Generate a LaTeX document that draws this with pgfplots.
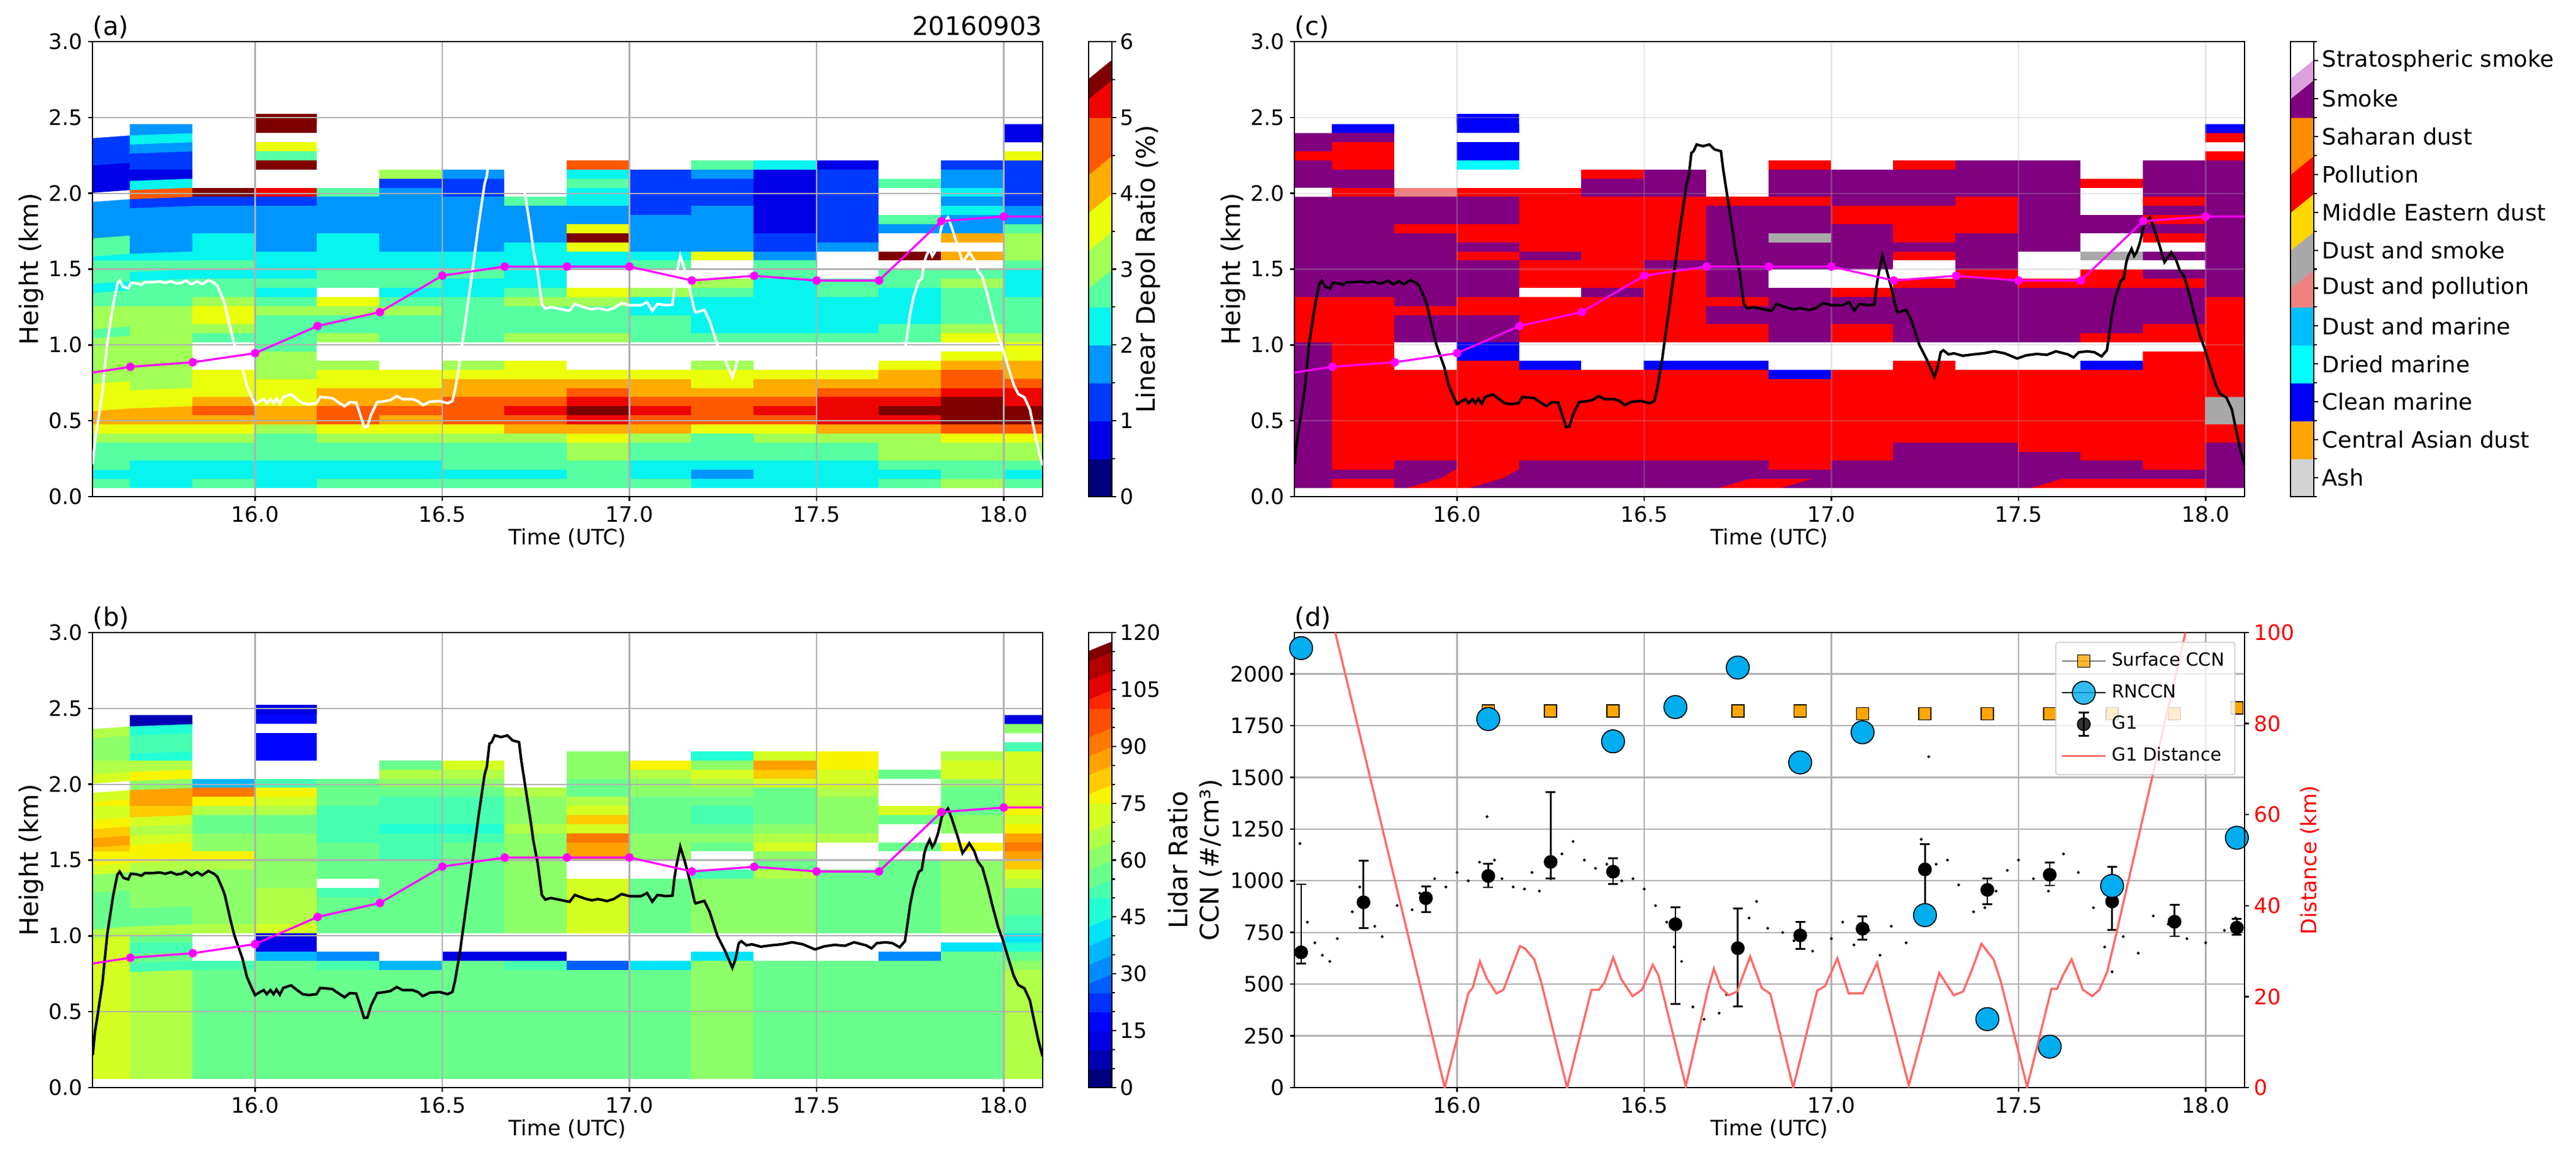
\documentclass[border=0pt]{standalone}
\usepackage{fontspec}
\setmainfont{DejaVu Sans}
\usepackage{pgfplots}
\usepackage{pgfplotstable}
\pgfplotsset{compat=1.18}
\pgfplotsset{mesh/check=false}

\newcommand\tickf{\fontsize{8.33}{10}\selectfont}
\newcommand\titlef{\fontsize{10}{12}\selectfont}
\newcommand\typef{\fontsize{8.83}{10}\selectfont}
\newcommand\legf{\fontsize{7.05}{9}\selectfont}

\definecolor{gridc}{HTML}{B0B0B0}
\definecolor{mag}{HTML}{FF00FF}
\definecolor{distc}{HTML}{FF6A6A}
\definecolor{ccnorange}{HTML}{FFA500}

% class 0 = no data (white)
\pgfplotsset{
  colormap={depol}{rgb255=(255,255,255) rgb255=(0,0,127) rgb255=(0,0,232) rgb255=(0,58,255) rgb255=(0,150,255)
    rgb255=(8,244,238) rgb255=(86,255,161) rgb255=(161,255,86) rgb255=(235,255,11) rgb255=(255,171,0)
    rgb255=(255,89,0) rgb255=(238,4,0) rgb255=(127,0,0)},
  colormap={lidar}{rgb255=(255,255,255) rgb255=(0,0,127) rgb255=(0,0,178) rgb255=(0,0,228) rgb255=(0,5,255)
    rgb255=(0,50,255) rgb255=(0,94,255) rgb255=(0,139,255) rgb255=(0,183,255) rgb255=(0,227,248)
    rgb255=(34,255,213) rgb255=(70,255,177) rgb255=(105,255,141) rgb255=(141,255,105) rgb255=(177,255,70)
    rgb255=(213,255,34) rgb255=(248,244,0) rgb255=(255,202,0) rgb255=(255,161,0) rgb255=(255,120,0)
    rgb255=(255,79,0) rgb255=(255,38,0) rgb255=(228,0,0) rgb255=(178,0,0) rgb255=(127,0,0)},
  colormap={types}{rgb255=(255,255,255) rgb255=(211,211,211) rgb255=(255,165,0) rgb255=(0,0,255) rgb255=(0,255,255)
    rgb255=(0,191,255) rgb255=(240,128,128) rgb255=(169,169,169) rgb255=(255,215,0) rgb255=(255,0,0)
    rgb255=(255,140,0) rgb255=(128,0,128) rgb255=(221,160,221)},
}

% depol ratio class per cell: 16 values per height row, lowest row first
\pgfplotstableread[row sep=crcr]{v\\
6\\5\\6\\5\\6\\6\\6\\6\\6\\6\\5\\5\\5\\6\\7\\6\\
5\\5\\5\\5\\5\\5\\5\\5\\6\\5\\4\\5\\5\\5\\6\\5\\
6\\5\\5\\5\\5\\5\\6\\6\\6\\5\\5\\5\\5\\6\\6\\6\\
6\\6\\6\\6\\6\\6\\6\\6\\7\\6\\6\\6\\6\\7\\7\\7\\
6\\6\\6\\6\\6\\6\\6\\6\\7\\6\\6\\6\\6\\7\\7\\7\\
7\\7\\7\\6\\7\\7\\7\\7\\8\\7\\6\\7\\7\\7\\8\\8\\
8\\8\\8\\7\\8\\8\\8\\9\\9\\9\\8\\8\\9\\9\\10\\10\\
9\\9\\9\\9\\10\\9\\10\\10\\11\\10\\10\\10\\11\\11\\12\\12\\
9\\9\\10\\9\\10\\10\\10\\11\\12\\11\\10\\11\\11\\12\\12\\12\\
8\\8\\9\\8\\9\\9\\10\\10\\11\\10\\10\\10\\11\\11\\12\\11\\
8\\8\\8\\8\\9\\9\\9\\9\\10\\9\\9\\9\\10\\10\\11\\11\\
8\\7\\8\\8\\8\\8\\9\\9\\9\\9\\8\\9\\9\\9\\10\\10\\
7\\7\\8\\7\\8\\8\\8\\8\\8\\8\\8\\8\\8\\9\\10\\9\\
7\\7\\0\\7\\7\\0\\7\\8\\0\\0\\7\\0\\0\\8\\9\\9\\
7\\7\\0\\7\\0\\0\\0\\0\\0\\0\\0\\0\\0\\0\\8\\8\\
7\\7\\0\\6\\0\\0\\0\\0\\0\\0\\0\\0\\0\\0\\0\\8\\
7\\7\\6\\6\\7\\6\\6\\7\\7\\6\\6\\6\\6\\6\\8\\7\\
6\\7\\7\\6\\6\\6\\6\\6\\6\\6\\5\\5\\5\\6\\7\\6\\
7\\7\\8\\6\\6\\6\\6\\6\\6\\6\\5\\5\\5\\5\\6\\6\\
7\\7\\8\\7\\7\\7\\6\\6\\6\\5\\5\\5\\5\\5\\6\\6\\
6\\6\\7\\6\\8\\6\\6\\7\\7\\5\\5\\5\\5\\5\\6\\6\\
6\\6\\6\\5\\0\\5\\5\\6\\8\\7\\6\\5\\6\\5\\6\\5\\
5\\6\\6\\6\\6\\6\\5\\5\\0\\0\\7\\5\\6\\6\\7\\5\\
6\\5\\5\\5\\6\\6\\6\\5\\0\\0\\0\\6\\0\\6\\6\\5\\
6\\6\\6\\5\\5\\5\\5\\5\\5\\6\\0\\6\\0\\0\\0\\6\\
5\\5\\5\\5\\5\\5\\5\\5\\5\\5\\8\\4\\0\\12\\9\\7\\
6\\4\\5\\4\\5\\4\\4\\5\\8\\4\\4\\3\\4\\0\\0\\7\\
6\\4\\5\\4\\5\\4\\4\\4\\12\\4\\4\\3\\3\\0\\9\\7\\
4\\4\\4\\4\\4\\4\\4\\4\\8\\4\\4\\2\\3\\4\\4\\6\\
4\\4\\4\\4\\4\\4\\4\\4\\4\\4\\4\\2\\3\\6\\4\\4\\
4\\4\\4\\4\\4\\4\\4\\4\\4\\3\\4\\2\\3\\0\\5\\4\\
4\\3\\3\\3\\4\\4\\4\\6\\5\\3\\3\\2\\3\\0\\4\\3\\
0\\10\\12\\11\\6\\4\\3\\0\\5\\3\\3\\2\\3\\0\\5\\3\\
2\\5\\0\\0\\0\\3\\3\\0\\6\\3\\3\\2\\3\\6\\4\\3\\
2\\2\\0\\0\\0\\7\\4\\0\\5\\3\\4\\2\\3\\0\\4\\3\\
2\\3\\0\\12\\0\\0\\0\\0\\10\\0\\6\\5\\2\\0\\3\\3\\
3\\3\\0\\6\\0\\0\\0\\0\\0\\0\\0\\0\\0\\0\\0\\8\\
3\\4\\0\\8\\0\\0\\0\\0\\0\\0\\0\\0\\0\\0\\0\\0\\
3\\5\\0\\0\\0\\0\\0\\0\\0\\0\\0\\0\\0\\0\\0\\2\\
0\\4\\0\\12\\0\\0\\0\\0\\0\\0\\0\\0\\0\\0\\0\\2\\
0\\0\\0\\12\\0\\0\\0\\0\\0\\0\\0\\0\\0\\0\\0\\0\\
}\tabdepol

% lidar ratio class per cell (value/5 + 1), same layout
\pgfplotstableread[row sep=crcr]{v\\
15\\14\\12\\12\\12\\12\\12\\12\\12\\12\\13\\12\\12\\12\\12\\14\\
15\\14\\12\\12\\12\\12\\12\\12\\12\\12\\13\\12\\12\\12\\12\\14\\
15\\14\\12\\12\\12\\12\\12\\12\\12\\12\\13\\12\\12\\12\\12\\14\\
15\\14\\12\\12\\12\\12\\12\\12\\12\\12\\13\\12\\12\\12\\12\\14\\
15\\14\\12\\12\\12\\12\\12\\12\\12\\12\\13\\12\\12\\12\\12\\14\\
15\\14\\12\\12\\12\\12\\12\\12\\12\\12\\13\\12\\12\\12\\12\\14\\
15\\14\\12\\12\\12\\12\\12\\12\\12\\12\\13\\12\\12\\12\\12\\14\\
15\\14\\12\\12\\12\\12\\12\\12\\12\\12\\13\\12\\12\\12\\12\\14\\
15\\14\\12\\12\\12\\12\\12\\12\\12\\12\\13\\12\\12\\12\\12\\14\\
15\\14\\12\\12\\12\\12\\12\\12\\12\\12\\13\\12\\12\\12\\12\\14\\
15\\14\\12\\12\\12\\12\\12\\12\\12\\12\\13\\12\\12\\12\\12\\14\\
15\\14\\12\\12\\12\\12\\12\\12\\12\\12\\13\\12\\12\\12\\12\\14\\
15\\11\\11\\12\\11\\8\\12\\11\\6\\9\\13\\12\\12\\12\\12\\13\\
15\\12\\0\\8\\7\\0\\3\\3\\0\\0\\9\\0\\0\\7\\12\\12\\
15\\11\\0\\3\\0\\0\\0\\0\\0\\0\\0\\0\\0\\0\\9\\10\\
15\\12\\0\\3\\0\\0\\0\\0\\0\\0\\0\\0\\0\\0\\0\\9\\
14\\14\\14\\15\\12\\12\\12\\13\\15\\12\\13\\13\\12\\12\\13\\11\\
12\\12\\13\\14\\12\\12\\12\\13\\15\\12\\13\\13\\12\\12\\13\\11\\
12\\12\\13\\14\\12\\12\\12\\13\\15\\12\\13\\13\\12\\12\\13\\12\\
12\\13\\13\\14\\12\\12\\12\\13\\15\\12\\13\\13\\12\\12\\13\\12\\
12\\13\\13\\14\\11\\12\\12\\13\\15\\12\\13\\13\\12\\12\\13\\12\\
13\\13\\13\\13\\0\\12\\12\\13\\15\\12\\13\\13\\12\\12\\13\\14\\
13\\13\\13\\13\\12\\12\\12\\13\\0\\0\\11\\14\\12\\12\\13\\15\\
15\\14\\14\\13\\12\\12\\12\\13\\0\\0\\0\\12\\0\\12\\13\\17\\
16\\16\\16\\13\\12\\11\\12\\13\\18\\13\\0\\13\\0\\0\\0\\18\\
17\\16\\13\\13\\12\\11\\12\\13\\18\\13\\12\\15\\0\\12\\16\\19\\
18\\15\\13\\13\\11\\11\\11\\13\\19\\13\\13\\14\\14\\0\\0\\18\\
17\\14\\12\\12\\11\\10\\10\\14\\15\\12\\12\\13\\13\\0\\13\\16\\
16\\15\\12\\12\\11\\11\\11\\13\\17\\12\\11\\12\\13\\12\\13\\15\\
15\\17\\14\\14\\11\\11\\11\\13\\15\\12\\11\\12\\13\\15\\12\\16\\
16\\18\\16\\15\\12\\11\\11\\13\\14\\12\\12\\12\\13\\0\\12\\15\\
15\\18\\19\\16\\12\\12\\12\\14\\12\\13\\13\\12\\14\\0\\12\\15\\
0\\13\\8\\11\\12\\13\\13\\0\\12\\13\\14\\15\\15\\0\\13\\15\\
15\\16\\0\\0\\0\\14\\14\\0\\13\\14\\15\\17\\15\\12\\15\\15\\
14\\14\\0\\0\\0\\12\\15\\0\\13\\16\\13\\18\\16\\0\\15\\15\\
13\\10\\0\\4\\0\\0\\0\\0\\13\\0\\10\\15\\16\\0\\14\\15\\
13\\11\\0\\4\\0\\0\\0\\0\\0\\0\\0\\0\\0\\0\\0\\11\\
13\\11\\0\\4\\0\\0\\0\\0\\0\\0\\0\\0\\0\\0\\0\\0\\
14\\10\\0\\0\\0\\0\\0\\0\\0\\0\\0\\0\\0\\0\\0\\13\\
0\\2\\0\\4\\0\\0\\0\\0\\0\\0\\0\\0\\0\\0\\0\\3\\
0\\0\\0\\3\\0\\0\\0\\0\\0\\0\\0\\0\\0\\0\\0\\0\\
}\tablidar

% aerosol type per cell, here one line per time column, lowest height first
% 3 clean marine, 4 dried marine, 6 dust+pollution, 7 dust+smoke, 9 pollution, 11 smoke
\pgfplotstableread[row sep=crcr]{v\\
11\\11\\11\\11\\11\\11\\11\\11\\11\\11\\11\\11\\11\\11\\11\\11\\9\\9\\9\\9\\9\\11\\11\\11\\11\\11\\11\\11\\11\\11\\11\\11\\0\\11\\11\\11\\9\\11\\11\\0\\0\\
9\\11\\9\\9\\9\\9\\9\\9\\9\\9\\9\\9\\9\\9\\9\\9\\9\\9\\9\\9\\9\\11\\11\\11\\11\\11\\11\\11\\11\\11\\11\\11\\9\\11\\11\\9\\9\\9\\11\\3\\0\\
11\\11\\11\\9\\9\\9\\9\\9\\9\\9\\9\\9\\9\\0\\0\\0\\11\\11\\11\\9\\11\\11\\11\\11\\11\\11\\11\\11\\9\\11\\11\\11\\6\\0\\0\\0\\0\\0\\0\\0\\0\\
9\\9\\9\\9\\9\\9\\9\\9\\9\\9\\9\\9\\9\\9\\3\\3\\11\\11\\11\\9\\9\\11\\11\\11\\11\\9\\11\\9\\9\\11\\11\\11\\9\\0\\0\\4\\3\\3\\0\\3\\3\\
11\\11\\11\\9\\9\\9\\9\\9\\9\\9\\9\\9\\9\\3\\0\\0\\9\\9\\9\\9\\9\\0\\9\\9\\9\\11\\9\\9\\9\\9\\9\\9\\9\\0\\0\\0\\0\\0\\0\\0\\0\\
11\\11\\11\\9\\9\\9\\9\\9\\9\\9\\9\\9\\9\\0\\0\\0\\9\\9\\9\\9\\9\\11\\9\\9\\9\\9\\9\\9\\9\\9\\9\\9\\11\\11\\9\\0\\0\\0\\0\\0\\0\\
11\\11\\11\\9\\9\\9\\9\\9\\9\\9\\9\\9\\9\\3\\0\\0\\9\\9\\9\\9\\9\\9\\9\\9\\11\\9\\9\\9\\9\\9\\9\\9\\11\\11\\11\\0\\0\\0\\0\\0\\0\\
11\\11\\11\\9\\9\\9\\9\\9\\9\\9\\9\\9\\9\\3\\0\\0\\9\\9\\11\\11\\9\\11\\11\\11\\11\\11\\11\\11\\11\\11\\11\\9\\0\\0\\0\\0\\0\\0\\0\\0\\0\\
9\\11\\9\\9\\9\\9\\9\\9\\9\\9\\9\\9\\3\\0\\0\\0\\11\\11\\11\\11\\11\\11\\0\\0\\11\\11\\11\\7\\11\\11\\11\\9\\11\\11\\11\\9\\0\\0\\0\\0\\0\\
11\\11\\11\\9\\9\\9\\9\\9\\9\\9\\9\\9\\9\\0\\0\\0\\9\\9\\11\\11\\11\\9\\0\\0\\11\\11\\11\\11\\11\\9\\9\\11\\11\\11\\11\\0\\0\\0\\0\\0\\0\\
11\\11\\11\\11\\11\\9\\9\\9\\9\\9\\9\\9\\9\\9\\0\\0\\11\\11\\11\\11\\11\\11\\9\\0\\0\\9\\11\\9\\9\\9\\9\\11\\11\\11\\11\\9\\0\\0\\0\\0\\0\\
11\\11\\11\\11\\11\\9\\9\\9\\9\\9\\9\\9\\9\\0\\0\\0\\11\\11\\11\\11\\11\\11\\11\\9\\11\\11\\11\\11\\9\\9\\9\\9\\11\\11\\11\\11\\0\\0\\0\\0\\0\\
11\\11\\11\\11\\9\\9\\9\\9\\9\\9\\9\\9\\9\\0\\0\\0\\11\\11\\11\\11\\11\\11\\9\\0\\0\\0\\11\\11\\11\\11\\11\\11\\11\\11\\11\\11\\0\\0\\0\\0\\0\\
9\\11\\11\\9\\9\\9\\9\\9\\9\\9\\9\\9\\9\\3\\0\\0\\9\\11\\11\\11\\11\\11\\9\\9\\0\\7\\0\\0\\11\\11\\0\\0\\0\\9\\0\\0\\0\\0\\0\\0\\0\\
9\\11\\9\\9\\9\\9\\9\\9\\9\\9\\9\\9\\9\\9\\9\\0\\9\\9\\11\\11\\11\\11\\9\\11\\0\\11\\0\\9\\11\\9\\11\\9\\11\\11\\11\\11\\0\\0\\0\\0\\0\\
11\\11\\11\\11\\11\\9\\9\\7\\7\\7\\9\\9\\9\\9\\9\\9\\9\\9\\9\\9\\9\\11\\11\\11\\11\\11\\11\\11\\11\\11\\11\\11\\11\\11\\11\\11\\9\\0\\9\\3\\0\\
}\tabtypes

\pgfplotstableread[row sep=crcr]{v\\1\\1\\2\\2\\3\\3\\4\\4\\5\\5\\6\\6\\7\\7\\8\\8\\9\\9\\10\\10\\11\\11\\12\\12\\}\tabcbtwelve
\pgfplotstableread[row sep=crcr]{v\\1\\1\\2\\2\\3\\3\\4\\4\\5\\5\\6\\6\\7\\7\\8\\8\\9\\9\\10\\10\\11\\11\\12\\12\\13\\13\\14\\14\\15\\15\\16\\16\\17\\17\\18\\18\\19\\19\\20\\20\\21\\21\\22\\22\\23\\23\\24\\24\\}\tabcbfour

% cell centres on the 10 min / 60 m grid
\pgfplotstablecreatecol[create col/expr={15.5+1/12+mod(\pgfplotstablerow,16)/6}]{x}\tabdepol
\pgfplotstablecreatecol[create col/expr={0.09+0.06*floor(\pgfplotstablerow/16)}]{y}\tabdepol
\pgfplotstablecreatecol[create col/expr={15.5+1/12+mod(\pgfplotstablerow,16)/6}]{x}\tablidar
\pgfplotstablecreatecol[create col/expr={0.09+0.06*floor(\pgfplotstablerow/16)}]{y}\tablidar
\pgfplotstablecreatecol[create col/expr={15.5+1/12+floor(\pgfplotstablerow/41)/6}]{x}\tabtypes
\pgfplotstablecreatecol[create col/expr={0.09+0.06*mod(\pgfplotstablerow,41)}]{y}\tabtypes
\pgfplotstablecreatecol[create col/expr={mod(\pgfplotstablerow,2)}]{x}\tabcbtwelve
\pgfplotstablecreatecol[create col/expr={floor(\pgfplotstablerow/2)}]{k}\tabcbtwelve
\pgfplotstablecreatecol[create col/expr={mod(\pgfplotstablerow,2)}]{x}\tabcbfour
\pgfplotstablecreatecol[create col/expr={floor(\pgfplotstablerow/2)}]{k}\tabcbfour

% aircraft altitude
\pgfplotstableread{
x y
15.566 .213
15.572 .367
15.579 .475
15.592 .69
15.605 1.013
15.621 1.269
15.632 1.404
15.638 1.424
15.648 1.383
15.661 1.373
15.668 1.41
15.684 1.406
15.696 1.397
15.705 1.414
15.725 1.414
15.745 1.418
15.76 1.41
15.775 1.42
15.79 1.405
15.803 1.41
15.815 1.425
15.83 1.40
15.845 1.42
15.858 1.40
15.875 1.428
15.89 1.41
15.899 1.39
15.913 1.31
15.919 1.27
15.934 1.107
15.945 1.0
15.966 .852
15.978 .73
15.992 .65
16.0 .61
16.013 .63
16.023 .643
16.031 .616
16.041 .643
16.049 .616
16.057 .646
16.066 .612
16.075 .657
16.096 .674
16.112 .643
16.127 .616
16.143 .61
16.164 .616
16.174 .657
16.206 .65
16.226 .616
16.239 .596
16.253 .623
16.27 .62
16.284 .515
16.291 .459
16.3 .462
16.31 .542
16.326 .623
16.347 .63
16.362 .637
16.378 .663
16.394 .643
16.42 .643
16.435 .63
16.448 .603
16.467 .626
16.493 .63
16.514 .616
16.527 .63
16.534 .704
16.548 .906
16.553 1.0
16.566 1.229
16.581 1.498
16.597 1.794
16.613 2.063
16.619 2.114
16.626 2.267
16.632 2.278
16.64 2.322
16.657 2.311
16.674 2.322
16.688 2.289
16.705 2.278
16.711 2.158
16.726 1.917
16.737 1.742
16.743 1.632
16.755 1.479
16.766 1.27
16.775 1.24
16.79 1.25
16.81 1.24
16.83 1.23
16.84 1.225
16.854 1.27
16.865 1.26
16.885 1.243
16.9 1.235
16.916 1.243
16.94 1.23
16.958 1.243
16.979 1.276
17.0 1.262
17.031 1.262
17.047 1.283
17.061 1.226
17.075 1.27
17.099 1.262
17.115 1.266
17.12 1.377
17.125 1.457
17.136 1.588
17.147 1.5
17.161 1.369
17.174 1.227
17.177 1.215
17.2 1.231
17.214 1.161
17.235 1.0
17.256 .899
17.275 .79
17.283 .844
17.292 .952
17.299 .965
17.313 .938
17.327 .945
17.351 .929
17.379 .938
17.407 .945
17.435 .958
17.463 .945
17.496 .911
17.52 .931
17.548 .941
17.576 .935
17.6 .958
17.632 .938
17.647 .918
17.661 .952
17.684 .958
17.703 .952
17.722 .925
17.736 .965
17.741 1.046
17.75 1.207
17.759 1.315
17.773 1.423
17.781 1.436
17.788 1.546
17.793 1.587
17.802 1.634
17.809 1.587
17.816 1.614
17.825 1.681
17.835 1.789
17.851 1.84
17.861 1.775
17.877 1.654
17.89 1.546
17.9 1.58
17.908 1.611
17.921 1.56
17.931 1.49
17.943 1.45
17.957 1.328
17.969 1.207
17.985 1.059
17.997 .978
18.01 .871
18.027 .736
18.039 .676
18.055 .655
18.07 .575
18.079 .467
18.093 .306
18.104 .205
}\tabalt

% boundary layer height
\pgfplotstableread{
x y
15.5 .793
15.6667 .856
15.8333 .886
16.0 .946
16.1667 1.125
16.3333 1.217
16.5 1.457
16.6667 1.517
16.8333 1.517
17.0 1.517
17.1667 1.425
17.3333 1.456
17.5 1.425
17.6667 1.425
17.8333 1.817
18.0 1.847
18.1667 1.847
}\tabblh

% G1 distance
\pgfplotstableread{
x y
15.66 105
15.967 0
16.03 20.7
16.042 22
16.061 27.7
16.08 23.9
16.105 20.7
16.124 21.5
16.149 27
16.168 31.1
16.181 30.6
16.206 28.2
16.225 23.1
16.294 0
16.359 21.5
16.379 21.5
16.394 23.1
16.417 28.6
16.438 23.9
16.469 20.1
16.494 21.5
16.523 27
16.538 24.7
16.611 .3
16.67 21.5
16.686 26.1
16.705 21.9
16.726 20.3
16.748 21.1
16.783 28.8
16.814 21.9
16.837 20.6
16.898 0
16.962 21.3
16.983 22.3
17.016 28.4
17.046 20.7
17.084 20.7
17.122 27.4
17.207 .5
17.288 25.2
17.327 20.3
17.352 21.1
17.377 26.2
17.401 31.6
17.433 28.2
17.452 23.5
17.523 .2
17.588 21.7
17.603 21.7
17.619 24.7
17.642 28.2
17.672 21.5
17.697 20.1
17.716 21.5
17.737 25.5
17.76 33.4
17.96 105
}\tabdist

% G1 CCN means
\pgfplotstableread{
x y
15.5833 654
15.75 896
15.9167 916
16.0833 1023
16.25 1091
16.4167 1044
16.5833 790
16.75 674
16.9167 736
17.0833 768
17.25 1055
17.4167 956
17.5833 1029
17.75 900
17.9167 802
18.0833 773
}\tabgone

% G1 spread: top and bottom of each bar, nan breaks the line
\pgfplotstableread{
x y
15.5833 983
15.5833 599
nan nan
15.75 1097
15.75 771
nan nan
15.9167 973
15.9167 849
nan nan
16.0833 1083
16.0833 968
nan nan
16.25 1429
16.25 1011
nan nan
16.4167 1109
16.4167 985
nan nan
16.5833 872
16.5833 404
nan nan
16.75 867
16.75 393
nan nan
16.9167 802
16.9167 670
nan nan
17.0833 827
17.0833 715
nan nan
17.25 1177
17.25 856
nan nan
17.4167 1011
17.4167 886
nan nan
17.5833 1088
17.5833 977
nan nan
17.75 1067
17.75 762
nan nan
17.9167 884
17.9167 731
nan nan
18.0833 815
18.0833 738
}\tabbars

\pgfplotstableread{
x y
16.0833 1821
16.25 1821
16.4167 1821
16.5833 1821
16.75 1821
16.9167 1821
17.0833 1808
17.25 1808
17.4167 1808
17.5833 1808
17.75 1808
17.9167 1808
18.0833 1835
}\tabsurf

\pgfplotstableread{
x y
15.5833 2125
16.0833 1782
16.4167 1674
16.5833 1840
16.75 2031
16.9167 1572
17.0833 1718
17.25 834
17.4167 331
17.5833 198
17.75 975
18.0833 1208
}\tabrn

% raw G1 samples, faint cloud behind the means
\pgfplotstableread{
x y
15.58 1180
15.6 800
15.62 700
15.64 640
15.66 610
15.68 720
15.72 850
15.74 970
15.78 780
15.8 730
15.84 880
15.88 860
15.9 940
15.94 1010
15.97 970
16.0 1040
16.03 1000
16.06 1090
16.08 1310
16.1 1100
16.12 1010
16.15 970
16.18 960
16.2 1040
16.22 950
16.25 1010
16.28 1130
16.31 1190
16.34 1100
16.37 1060
16.4 1080
16.44 1000
16.47 1010
16.5 960
16.53 880
16.56 800
16.58 680
16.6 610
16.63 390
16.66 330
16.7 360
16.72 450
16.78 820
16.8 900
16.83 770
16.87 750
16.9 710
16.95 660
17.0 720
17.03 800
17.06 690
17.1 760
17.13 640
17.16 780
17.2 700
17.24 1200
17.26 1600
17.28 1080
17.31 1100
17.34 980
17.38 850
17.41 870
17.44 950
17.47 1050
17.5 1100
17.54 1010
17.58 950
17.62 1130
17.66 1040
17.7 870
17.73 680
17.75 560
17.78 730
17.82 650
17.86 830
17.9 790
17.95 720
18.0 700
18.05 760
18.08 820
}\tabraw

\pgfplotsset{
  basepanel/.style={
    scale only axis, width=372.24pt, height=178.32pt, anchor=south west,
    xmin=15.5655, xmax=18.104,
    xtick={16,16.5,17,17.5,18}, tick pos=left, tick align=outside,
    major tick length=1.68pt,
    tick style={black, line width=.6pt},
    axis line style={line width=.6pt},
    grid=major, grid style={color=gridc, line width=.55pt},
    every tick label/.append style={font=\tickf, inner sep=0pt},
    xticklabel style={/pgf/number format/.cd, fixed, fixed zerofill, precision=1, assume math mode=true},
    yticklabel style={/pgf/number format/assume math mode=true},
    xticklabel shift=1.9pt, yticklabel shift=2.1pt,
    xlabel={Time (UTC)},
    xlabel style={font=\tickf, at={(axis description cs:0.5,-0.1063)}, anchor=base, inner sep=0pt},
    ylabel style={font=\tickf, rotate=0, anchor=center, inner sep=0pt},
  },
  heightaxis/.style={
    ymin=0, ymax=3, ytick={0,0.5,1,1.5,2,2.5,3},
    yticklabel style={/pgf/number format/.cd, fixed, fixed zerofill, precision=1},
    ylabel={Height (km)},
    every axis y label/.style={at={(axis description cs:-0.0645,0.5)}, rotate=90, anchor=center},
    axis on top,
  },
  % lines over the cells live in their own axis, so the mesh setup stays out of them
  linepanel/.style={
    scale only axis, width=372.24pt, height=178.32pt, anchor=south west,
    xmin=15.5655, xmax=18.104, ymin=0, ymax=3, axis lines=none,
  },
  barpanel/.style={
    scale only axis, width=9.12pt, height=178.32pt, anchor=south west,
    xmin=0, xmax=1, xtick=\empty, ytick pos=right, yticklabel pos=right,
    tick align=outside, major tick length=1.7pt, minor tick length=1.2pt,
    tick style={black, line width=.5pt}, axis line style={line width=.5pt},
    every tick label/.append style={font=\tickf, inner sep=0pt},
    yticklabel style={/pgf/number format/assume math mode=true, anchor=west},
    yticklabel shift=1.3pt, axis on top,
    ylabel style={font=\tickf, inner sep=0pt},
  },
  gridcells/.style={matrix plot*, mesh/cols=16, mesh/rows=41, point meta=explicit},
}

\begin{document}
\begin{tikzpicture}
\useasboundingbox (0,0) rectangle (1009.2pt,453.6pt);

% (d) CCN, first, ahead of the cell plots
\begin{axis}[basepanel, at={(507.12pt,27.36pt)},
  ymin=0, ymax=2200, ytick={0,250,500,750,1000,1250,1500,1750,2000},
  yticklabel style={/pgf/number format/.cd, 1000 sep={}},
  scaled y ticks=false,
  ylabel={CCN (\#/cm³)},
  every axis y label/.style={at={(axis description cs:-0.0883,0.5)}, rotate=90, anchor=center},
  extra description/.code={
    \node[anchor=base west, inner sep=0pt, font=\titlef] at (0,1) [yshift=2.64pt] {(d)};
  }]
\addplot[draw=none, mark=*, mark size=.35pt, mark options={draw=none, fill=black!18}] table[x=x, y=y, meta=y] {\tabraw};
\addplot[black, line width=.65pt, unbounded coords=jump, mark=-, mark size=1.9pt] table[x=x, y=y, meta=y] {\tabbars};
\addplot[draw=none, mark=*, mark size=2.5pt, mark options={draw=none, fill=black}] table[x=x, y=y, meta=y] {\tabgone};
\addplot[draw=none, mark=square*, mark size=2.4pt, mark options={draw=none, fill=ccnorange}] table[x=x, y=y, meta=y] {\tabsurf};
\addplot[draw=none, mark=*, mark size=4.5pt, mark options={draw=none, fill=cyan}] table[x=x, y=y, meta=y] {\tabrn};
\end{axis}
\begin{axis}[scale only axis, width=372.24pt, height=178.32pt, anchor=south west, at={(507.12pt,27.36pt)},
  xmin=15.5655, xmax=18.104, ymin=0, ymax=100,
  axis x line=none, axis y line*=right, tick align=outside, major tick length=1.68pt,
  tick style={black, line width=.6pt}, axis line style={line width=.6pt},
  ytick={0,20,40,60,80,100},
  yticklabel style={font=\tickf, red, inner sep=0pt, /pgf/number format/assume math mode=true},
  yticklabel shift=1.9pt,
  ylabel={Distance (km)},
  every axis y label/.style={at={(axis description cs:1.0690,0.5)}, rotate=90, anchor=center, red, font=\tickf, inner sep=0pt},
  legend style={at={(0.9903,0.98)}, anchor=north east, font=\legf, draw=black!20, rounded corners=1pt,
    fill=white, fill opacity=.8, draw opacity=1, text opacity=1, row sep=1.6pt, inner xsep=2pt, inner ysep=2pt},
  legend cell align=left]
\addplot[distc, line width=.85pt, forget plot] table[x=x, y=y, meta=y] {\tabdist};
\addlegendimage{draw=none, mark=square*, mark size=2.4pt, mark options={draw=none, fill=ccnorange}}
\addlegendentry{Surface CCN}
\addlegendimage{draw=none, mark=*, mark size=4.5pt, mark options={draw=none, fill=cyan}}
\addlegendentry{RNCCN}
\addlegendimage{legend image code/.code={
  \draw[black, line width=.65pt] (.3cm,-.16cm) -- (.3cm,.16cm);
  \draw[black, line width=.6pt] (.23cm,-.16cm) -- (.37cm,-.16cm) (.23cm,.16cm) -- (.37cm,.16cm);
  \fill[black] (.3cm,0cm) circle (2.5pt);}}
\addlegendentry{G1}
\addlegendimage{distc, line width=.85pt}
\addlegendentry{G1 Distance}
\end{axis}

% (a) depolarization
\begin{axis}[basepanel, heightaxis, at={(36.24pt,258.96pt)}, colormap name=depol, colormap access=direct,
  extra description/.code={
    \node[anchor=base west, inner sep=0pt, font=\titlef] at (0,1) [yshift=2.64pt] {(a)};
    \node[anchor=base east, inner sep=0pt, font=\titlef] at (1,1) [yshift=2.64pt] {20160903};
  }]
\addplot[gridcells] table[x=x, y=y, meta=v] {\tabdepol};
\end{axis}
\begin{axis}[linepanel, at={(36.24pt,258.96pt)}]
\addplot[white, line width=1pt] table[x=x, y=y] {\tabalt};
\addplot[mag, line width=.8pt, mark=*, mark size=1.3pt] table[x=x, y=y] {\tabblh};
\end{axis}
\begin{axis}[barpanel, at={(426.48pt,258.96pt)}, colormap name=depol, colormap access=direct,
  ymin=0, ymax=6, ytick={0,1,2,3,4,5,6}, minor ytick={0.5,1.5,2.5,3.5,4.5,5.5},
  ylabel={Linear Depol Ratio (\%)},
  every axis y label/.style={at={(axis description cs:2.55,0.5)}, rotate=90, anchor=center}]
\addplot[matrix plot*, mesh/cols=2, mesh/rows=12, point meta=explicit] table[x=x, y expr={0.25+0.5*\thisrow{k}}, meta=v] {\tabcbtwelve};
\end{axis}

% (b) lidar ratio
\begin{axis}[basepanel, heightaxis, at={(36.24pt,27.36pt)}, colormap name=lidar, colormap access=direct,
  extra description/.code={
    \node[anchor=base west, inner sep=0pt, font=\titlef] at (0,1) [yshift=2.64pt] {(b)};
  }]
\addplot[gridcells] table[x=x, y=y, meta=v] {\tablidar};
\end{axis}
\begin{axis}[linepanel, at={(36.24pt,27.36pt)}]
\addplot[black, line width=1pt] table[x=x, y=y] {\tabalt};
\addplot[mag, line width=.8pt, mark=*, mark size=1.3pt] table[x=x, y=y] {\tabblh};
\end{axis}
\begin{axis}[barpanel, at={(426.48pt,27.36pt)}, colormap name=lidar, colormap access=direct,
  ymin=0, ymax=120, ytick={0,15,30,45,60,75,90,105,120}, minor ytick={5,10,20,25,35,40,50,55,65,70,80,85,95,100,110,115},
  ylabel={Lidar Ratio},
  every axis y label/.style={at={(axis description cs:3.84,0.5)}, rotate=90, anchor=center}]
\addplot[matrix plot*, mesh/cols=2, mesh/rows=24, point meta=explicit] table[x=x, y expr={2.5+5*\thisrow{k}}, meta=v] {\tabcbfour};
\end{axis}

% (c) aerosol type
\begin{axis}[basepanel, heightaxis, at={(507.12pt,258.96pt)}, colormap name=types, colormap access=direct,
  grid style={color=gridc, line width=.55pt, opacity=.3},
  extra description/.code={
    \node[anchor=base west, inner sep=0pt, font=\titlef] at (0,1) [yshift=2.64pt] {(c)};
  }]
\addplot[gridcells, mesh/ordering=y varies] table[x=x, y=y, meta=v] {\tabtypes};
\end{axis}
\begin{axis}[linepanel, at={(507.12pt,258.96pt)}]
\addplot[black, line width=1pt] table[x=x, y=y] {\tabalt};
\addplot[mag, line width=.8pt, mark=*, mark size=1.3pt] table[x=x, y=y] {\tabblh};
\end{axis}
\begin{axis}[barpanel, at={(897.36pt,258.96pt)}, colormap name=types, colormap access=direct,
  ymin=0, ymax=12, ytick={0.5,1.5,2.5,3.5,4.5,5.5,6.5,7.5,8.5,9.5,10.5,11.5},
  minor ytick={0,1,2,3,4,5,6,7,8,9,10,11,12},
  yticklabels={Ash,Central Asian dust,Clean marine,Dried marine,Dust and marine,Dust and pollution,Dust and smoke,Middle Eastern dust,Pollution,Saharan dust,Smoke,Stratospheric smoke},
  yticklabel style={font=\typef}, yticklabel shift=1.4pt]
\addplot[matrix plot*, mesh/cols=2, mesh/rows=12, point meta=explicit] table[x=x, y expr={0.5+\thisrow{k}}, meta=v] {\tabcbtwelve};
\end{axis}
\end{tikzpicture}
\end{document}
